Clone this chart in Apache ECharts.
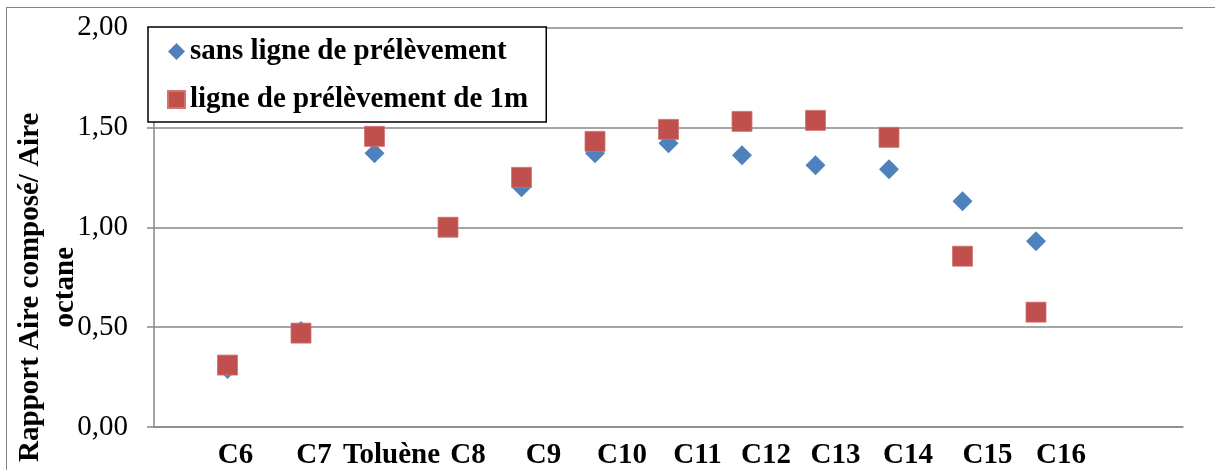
<!DOCTYPE html>
<html>
<head>
<meta charset="utf-8">
<script src="https://cdn.jsdelivr.net/npm/echarts@6/dist/echarts.min.js"></script>
<style>
  html, body { margin: 0; padding: 0; background: #fff; overflow: hidden; }
  #frame { position: absolute; left: 6px; top: 7px; width: 1300px; height: 600px;
           border: 1.5px solid #868686; box-sizing: border-box; }
  #chart { position: absolute; left: 0; top: 0; width: 1215px; height: 470px; }
</style>
</head>
<body>
<div id="frame"></div>
<div id="chart"></div>
<script>
// Compounds along the x axis
const compounds = ['C6', 'C7', 'Toluène', 'C8', 'C9', 'C10', 'C11', 'C12', 'C13', 'C14', 'C15', 'C16'];
// Area ratio (compound / octane) without sampling line
const sansLigne = [0.29, 0.48, 1.37, 1.00, 1.20, 1.37, 1.42, 1.36, 1.31, 1.29, 1.13, 0.93];
// Area ratio (compound / octane) with a 1 m sampling line
const ligne1m = [0.31, 0.47, 1.455, 1.00, 1.25, 1.43, 1.49, 1.53, 1.535, 1.45, 0.855, 0.575];
// Series names
const seriesNames = ['sans ligne de prélèvement', 'ligne de prélèvement de 1m'];
const yTitle = 'Rapport Aire composé/ Aire\noctane';

// Horizontal nudge of each category label (px)
const labelShift = [8, 13, 17, 20, 22, 27, 29, 24, 20, 19, 25, 25];

const serif = 'Liberation Serif, Times New Roman, serif';
const gray = '#878787';

// One empty slot before and two after the compounds, on a 0..14 scale
const slots = [''].concat(
  compounds.map((c, i) => ({ value: c, textStyle: { padding: [0, 0, 0, 2 * labelShift[i]] } })),
  ['', '']
);

const chart = echarts.init(document.getElementById('chart'), null, { renderer: 'canvas' });
chart.setOption({
  animation: false,
  backgroundColor: 'transparent',
  grid: { left: 154, top: 27.5, right: 32, bottom: 43, containLabel: false, outerBoundsMode: 'none' },
  legend: {
    orient: 'vertical',
    left: 148,
    top: 27,
    padding: [10, 18, 8, 19],
    itemGap: 19,
    itemWidth: 17,
    itemHeight: 17,
    itemTextGap: 6,
    backgroundColor: '#fff',
    borderColor: '#000',
    borderWidth: 1.5,
    borderRadius: 0,
    textStyle: { fontFamily: serif, fontSize: 29, fontWeight: 'bold', color: '#000' },
    data: seriesNames
  },
  xAxis: {
    type: 'category',
    boundaryGap: false,
    data: slots,
    axisLine: { show: true, lineStyle: { color: gray, width: 1.5 } },
    axisTick: { show: false },
    splitLine: { show: false },
    axisLabel: {
      interval: 0,
      margin: 14,
      fontFamily: serif,
      fontSize: 29,
      fontWeight: 'bold',
      color: '#000'
    }
  },
  yAxis: {
    type: 'value',
    min: 0,
    max: 2,
    interval: 0.5,
    name: yTitle,
    nameLocation: 'middle',
    nameRotate: 90,
    nameGap: 71,
    nameMoveOverlap: false,
    nameTextStyle: {
      fontFamily: serif, fontSize: 29, fontWeight: 'bold', color: '#000',
      lineHeight: 35, align: 'center', padding: [0, 120, 0, 0]
    },
    axisLine: { show: true, lineStyle: { color: gray, width: 1.5 } },
    axisTick: { show: true, inside: false, length: 7, lineStyle: { color: gray, width: 1.5 } },
    splitLine: { show: true, lineStyle: { color: gray, width: 1.5 } },
    axisLabel: {
      margin: 26,
      fontFamily: serif,
      fontSize: 29,
      color: '#000',
      formatter: v => v.toFixed(2).replace('.', ',')
    }
  },
  series: [
    {
      name: seriesNames[0],
      type: 'scatter',
      symbol: 'diamond',
      symbolSize: 20,
      itemStyle: { color: '#4F81BD', opacity: 1 },
      data: compounds.map((c, i) => [c, sansLigne[i]])
    },
    {
      name: seriesNames[1],
      type: 'scatter',
      symbol: 'rect',
      symbolSize: 20,
      itemStyle: { color: '#C0504D', opacity: 1, borderColor: '#D27370', borderWidth: 0.8 },
      data: compounds.map((c, i) => [c, ligne1m[i]])
    }
  ]
});
</script>
</body>
</html>
